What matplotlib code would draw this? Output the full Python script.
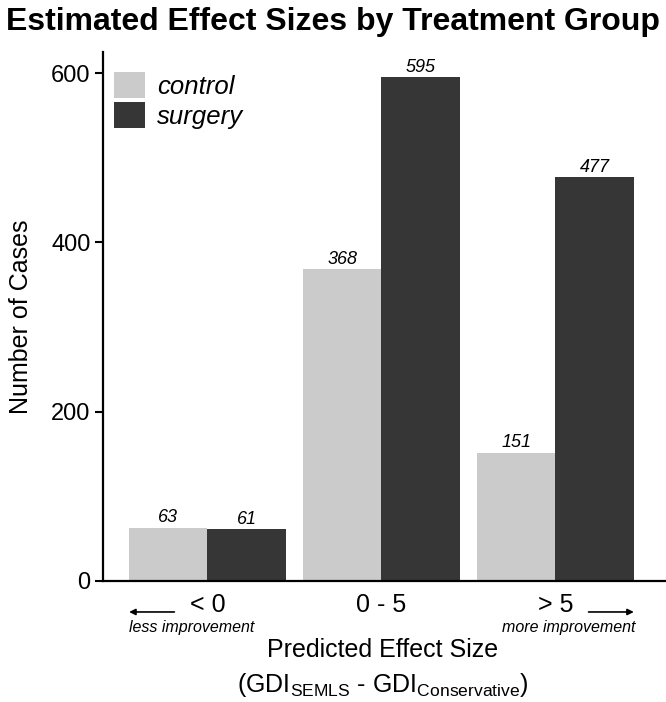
import numpy as np
import matplotlib
matplotlib.use("Agg")
import matplotlib.pyplot as plt
from matplotlib.patches import Patch

plt.rcParams['font.family'] = ['Liberation Sans', 'DejaVu Sans']
plt.rcParams['mathtext.fontset'] = 'custom'
plt.rcParams['mathtext.rm'] = 'Liberation Sans'

# data
groups = ['< 0', '0 - 5', '> 5']
control = [63, 368, 151]
surgery = [61, 595, 477]
series_names = ['control', 'surgery']
colors = ['#CBCBCB', '#363636']

fig = plt.figure(figsize=(6.66, 7.02), dpi=100)
ax = fig.add_axes([0.1547, 0.1724, 0.8453, 0.7536])

x = np.arange(len(groups))
w = 0.45
b1 = ax.bar(x - w / 2, control, width=w, color=colors[0], label=series_names[0])
b2 = ax.bar(x + w / 2, surgery, width=w, color=colors[1], label=series_names[1])

# value labels above bars
for bars, vals in [(b1, control), (b2, surgery)]:
    for rect, v in zip(bars, vals):
        ax.text(rect.get_x() + rect.get_width() / 2, v + 2, str(v),
                ha='center', va='bottom', fontsize=13, style='italic')

ax.set_xlim(-0.6, 2.635)
ax.set_ylim(0, 625)
ax.set_yticks([0, 200, 400, 600])
ax.set_xticks(x)
ax.set_xticklabels(groups, fontsize=18)
ax.tick_params(axis='y', labelsize=17, width=1.5, length=6, pad=3)
ax.tick_params(axis='x', length=0, pad=9)

for s in ['top', 'right']:
    ax.spines[s].set_visible(False)
for s in ['left', 'bottom']:
    ax.spines[s].set_linewidth(1.6)

ax.set_ylabel('Number of Cases', fontsize=18, labelpad=13)

# arrows and direction notes under the axis
trans = ax.get_xaxis_transform()
ax.annotate('', xy=(-0.45, -0.0586), xytext=(-0.19, -0.0586), xycoords=trans,
            textcoords=trans, annotation_clip=False,
            arrowprops=dict(arrowstyle='-|>', color='black', lw=1.2,
                            mutation_scale=9, shrinkA=0, shrinkB=0))
ax.annotate('', xy=(2.45, -0.0586), xytext=(2.19, -0.0586), xycoords=trans,
            textcoords=trans, annotation_clip=False,
            arrowprops=dict(arrowstyle='-|>', color='black', lw=1.2,
                            mutation_scale=9, shrinkA=0, shrinkB=0))
ax.text(-0.45, -0.087, 'less improvement', transform=trans, ha='left',
        va='center', fontsize=11.5, style='italic')
ax.text(2.46, -0.087, 'more improvement', transform=trans, ha='right',
        va='center', fontsize=11.5, style='italic')

fig.text(0.5745, 0.0641, 'Predicted Effect Size', ha='center', va='baseline', fontsize=18)
fig.text(0.5745, 0.0142, r'(GDI$_{\mathrm{SEMLS}}$ - GDI$_{\mathrm{Conservative}}$)',
         ha='center', va='baseline', fontsize=18)

handles = [Patch(facecolor=c, edgecolor='none') for c in colors]
leg = ax.legend(handles, series_names, loc='upper left', bbox_to_anchor=(0.0195, 0.962),
                frameon=False, prop={'size': 18.5, 'style': 'italic'},
                handlelength=1.2, handleheight=1.2, handletextpad=0.47,
                labelspacing=0.12, borderaxespad=0, borderpad=0)

fig.suptitle('Estimated Effect Sizes by Treatment Group', fontsize=23,
             fontweight='bold', x=0.5, y=0.99, va='top')

fig.savefig('out.png', dpi=100)
